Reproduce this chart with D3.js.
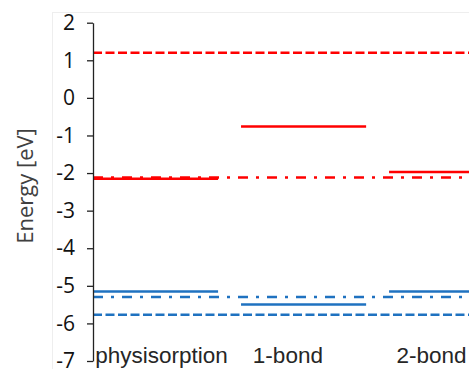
<!DOCTYPE html>
<html>
<head>
<meta charset="utf-8">
<script src="https://cdn.jsdelivr.net/npm/d3@7"></script>
<style>
  html, body { margin: 0; padding: 0; background: #fff; }
  svg { display: block; }
</style>
</head>
<body>
<svg id="chart" width="469" height="369"></svg>
<script>
// energy levels per adsorption geometry
var categories = ["physisorption", "1-bond", "2-bond"];
var lumoLevels = [-2.15, -0.76, -1.97];   // red solid
var homoLevels = [-5.15, -5.5, -5.15];    // blue solid

// reference levels across the whole plot
var refLevels = [1.2, -2.12, -5.3, -5.77];
var refColors = ["red", "red", "blue", "blue"];
var refStyles = ["dash", "dashdot", "dashdot", "dash"];

var yTicks = [2, 1, 0, -1, -2, -3, -4, -5, -6, -7];

var svg = d3.select("#chart"),
    width = +svg.attr("width"),
    height = +svg.attr("height");

var colors = { red: "#ff0000", blue: "#1f72c0" },
    dashes = { dash: "9,3.5", dashdot: "10,8,3,8" },
    segWidth = 0.845,
    labelStart = [0.015, 1.08, 2.05];

var x = d3.scaleLinear().domain([0, 2.54]).range([93, 469]);
var y = d3.scaleLinear().domain([-7, 2]).range([361, 22.7]);

// faint plot frame
svg.append("rect")
    .attr("x", 52.5).attr("y", 12.5)
    .attr("width", width).attr("height", height)
    .attr("fill", "none")
    .attr("stroke", "#eeeeee");

var levels = svg.append("g").attr("class", "levels");

function segments(vals, color, w) {
    levels.selectAll(null)
        .data(vals)
        .enter().append("line")
        .attr("x1", function(d, i) { return x(i); })
        .attr("x2", function(d, i) { return x(i + segWidth); })
        .attr("y1", function(d) { return y(d); })
        .attr("y2", function(d) { return y(d); })
        .attr("stroke", colors[color])
        .attr("stroke-width", w);
}

segments(lumoLevels, "red", 2.5);
segments(homoLevels, "blue", 2.5);

levels.selectAll(null)
    .data(refLevels)
    .enter().append("line")
    .attr("x1", x(0))
    .attr("x2", width)
    .attr("y1", function(d) { return y(d); })
    .attr("y2", function(d) { return y(d); })
    .attr("stroke", function(d, i) { return colors[refColors[i]]; })
    .attr("stroke-width", 2.5)
    .attr("stroke-dasharray", function(d, i) { return dashes[refStyles[i]]; });

var axis = svg.append("g")
    .attr("transform", "translate(" + x(0) + ",0)")
    .call(d3.axisLeft(y)
        .tickValues(yTicks)
        .tickFormat(function(d) { return String(d); })
        .tickSize(6).tickSizeOuter(0).tickPadding(12));

axis.select(".domain").attr("stroke", "#222").attr("stroke-width", 1.3);
axis.selectAll(".tick line").attr("stroke", "#222").attr("stroke-width", 1.3);
axis.selectAll(".tick text")
    .attr("fill", "#111")
    .style("font-family", "'Open Sans', sans-serif")
    .style("font-size", "21px");

svg.append("text")
    .attr("transform", "translate(33,186) rotate(-90)")
    .attr("text-anchor", "middle")
    .attr("fill", "#404040")
    .style("font-family", "'Open Sans', sans-serif")
    .style("font-size", "22px")
    .text("Energy [eV]");

svg.append("g").selectAll("text")
    .data(categories)
    .enter().append("text")
    .attr("x", function(d, i) { return x(labelStart[i]); })
    .attr("y", 363)
    .attr("fill", "#262626")
    .style("font-family", "'Liberation Sans', Arial, sans-serif")
    .style("font-size", "22.5px")
    .text(function(d) { return d; });
</script>
</body>
</html>
